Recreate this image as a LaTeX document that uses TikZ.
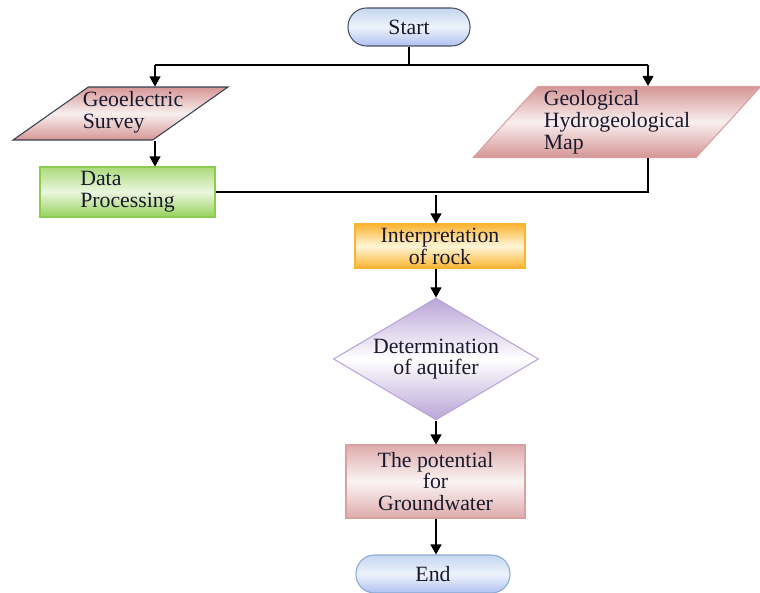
\documentclass[tikz,border=0pt]{standalone}
\usepackage{fontspec}
\setmainfont{Liberation Serif}
\usetikzlibrary{shapes.geometric,arrows.meta}
\definecolor{termfill}{RGB}{196,214,240}
\definecolor{termdraw}{RGB}{70,80,100}
\definecolor{enddraw}{RGB}{140,170,210}
\definecolor{rosefill}{RGB}{214,150,150}
\definecolor{rosedraw}{RGB}{220,160,160}
\definecolor{leafgreen}{RGB}{150,210,90}
\definecolor{leafdraw}{RGB}{140,205,80}
\definecolor{amber}{RGB}{250,180,50}
\definecolor{amberlight}{RGB}{255,245,215}
\definecolor{lilac}{RGB}{185,165,215}
\definecolor{inkblue}{RGB}{25,25,45}
\tikzset{
        every node/.style={text=inkblue, font=\fontsize{12.4}{12.4}\selectfont},
        terminal/.style={rectangle, rounded corners=3.7mm, draw=termdraw, line width=0.6pt,
          minimum width=2.44cm, minimum height=0.76cm, top color=termfill, bottom color=termfill!90!blue, middle color=white!70!termfill},
        slanted/.style={trapezium, trapezium stretches=true, line width=0.6pt, inner sep=1pt,
          align=left, top color=rosefill, bottom color=rosefill, middle color=white!85!rosefill},
        process/.style={rectangle, line width=0.6pt, inner sep=1pt},
        decision/.style={diamond, aspect=1.7, inner sep=0pt, draw=lilac, line width=0.6pt,
          minimum width=4.1cm, minimum height=2.44cm, align=center,
          top color=lilac, bottom color=lilac, middle color=white},
        arr/.style={-{Triangle[width=2.2mm,length=2mm]}, line width=0.6pt},
        conn/.style={line width=0.6pt}
          }
\begin{document}
\begin{tikzpicture}[x=0.02cm, y=-0.02cm]
  \useasboundingbox (0,0) rectangle (760,592);
  % boxes
  \node[terminal] (start) at (409,27) {Start};
  \node[slanted, draw=termdraw!80!black, trapezium left angle=40.5, trapezium right angle=139.5,
        minimum width=4.3cm, minimum height=1.06cm] (survey) at (120.5,113.5) {};
  \node[align=left] (surveytext) at (133,112) {Geoelectric\\Survey};
  \node[slanted, draw=rosedraw, trapezium left angle=47.5, trapezium right angle=132.5,
        minimum width=5.76cm, minimum height=1.42cm] (maps) at (617,122) {Geological\\Hydrogeological\\Map};
  \node[process, draw=leafdraw, align=left, minimum width=3.5cm, minimum height=1cm,
        top color=leafgreen!80, bottom color=leafgreen, middle color=white!80!leafgreen] (dataproc) at (127.5,192) {Data\\Processing};
  \node[process, draw=amber, align=center, minimum width=3.4cm, minimum height=0.88cm,
        top color=amber, bottom color=amber, middle color=amberlight] (interp) at (440,246) {Interpretation\\of rock};
  \node[decision] (aquifer) at (436,359) {Determination\\of aquifer};
  \node[process, draw=rosedraw, align=center, minimum width=3.58cm, minimum height=1.46cm,
        top color=rosefill!80, bottom color=rosefill!80, middle color=white!90!rosefill] (potential) at (435.5,481.5) {The potential\\for\\Groundwater};
  \node[terminal, draw=enddraw, minimum width=3.08cm] (finish) at (433,574) {End};
  % connectors
  \coordinate (splitl) at (155,65);
  \coordinate (splitr) at (648,65);
  \coordinate (merge) at (436,195);
  \draw[conn] (start.south) -- (start |- splitl);
  \draw[conn] (splitl) -- (splitr);
  \draw[arr] (splitl) -- (splitl |- survey.north);
  \draw[arr] (splitr) -- (splitr |- maps.north);
  \draw[arr] (splitl |- survey.south) -- (splitl |- dataproc.north);
  \draw[conn] (dataproc.east) -| (splitr |- maps.south);
  \draw[arr] (merge) -- (merge |- interp.north);
  \draw[arr] (merge |- interp.south) -- (aquifer.north);
  \draw[arr] (aquifer.south) -- (merge |- potential.north);
  \draw[arr] (merge |- potential.south) -- (merge |- finish.north);
\end{tikzpicture}
\end{document}
